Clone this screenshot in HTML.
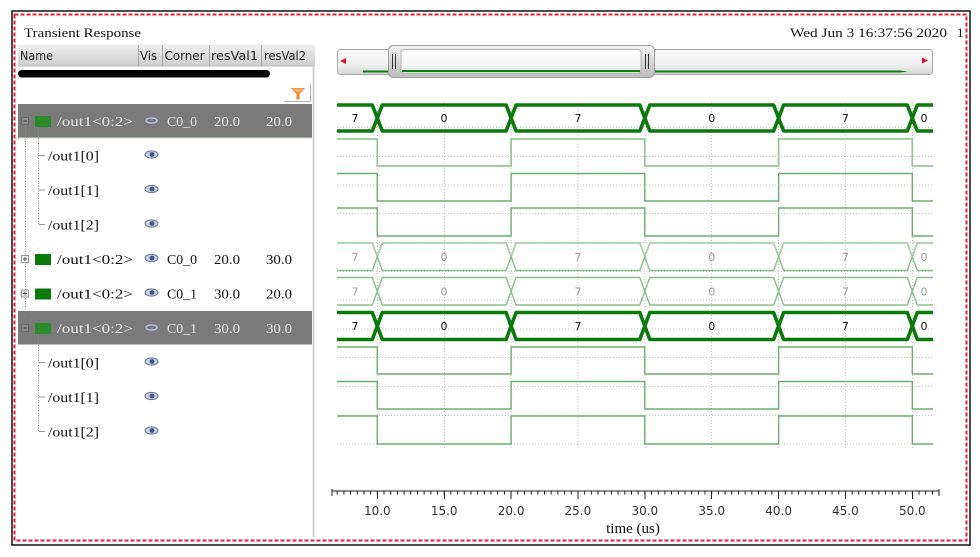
<!DOCTYPE html>
<html><head><meta charset="utf-8">
<style>
html,body{margin:0;padding:0;background:#fff;}
svg{display:block;}
.serif{font-family:"Liberation Serif","DejaVu Serif",serif;}
.sans{font-family:"DejaVu Sans","Liberation Sans",sans-serif;}
</style></head>
<body>
<svg width="980" height="557" viewBox="0 0 980 557" xmlns="http://www.w3.org/2000/svg">
<defs>
<linearGradient id="hdr" x1="0" y1="0" x2="0" y2="1"><stop offset="0" stop-color="#efefef"/><stop offset="1" stop-color="#cdcdcd"/></linearGradient>
<linearGradient id="trk" x1="0" y1="0" x2="0" y2="1"><stop offset="0" stop-color="#fdfdfd"/><stop offset="0.6" stop-color="#f0f0f0"/><stop offset="1" stop-color="#d4d4d4"/></linearGradient>
<linearGradient id="thb" x1="0" y1="0" x2="0" y2="1"><stop offset="0" stop-color="#f2f2f2"/><stop offset="1" stop-color="#bdbdbd"/></linearGradient>
<linearGradient id="thi" x1="0" y1="0" x2="0" y2="1"><stop offset="0" stop-color="#ffffff"/><stop offset="0.7" stop-color="#f3f3f3"/><stop offset="1" stop-color="#dedede"/></linearGradient>
</defs>
<rect width="980" height="557" fill="#fff"/>
<!-- frames -->
<rect x="12" y="11" width="958" height="534" fill="none" stroke="#111" stroke-width="1.5"/>
<rect x="14.5" y="14.5" width="952" height="526" fill="none" stroke="#e0203c" stroke-width="2" stroke-dasharray="4 2"/>

<!-- title -->
<text x="24" y="37" class="serif" font-size="13" fill="#111" textLength="117" lengthAdjust="spacingAndGlyphs">Transient Response</text>
<text x="790" y="37" class="serif" font-size="13" fill="#111" textLength="157" lengthAdjust="spacingAndGlyphs">Wed Jun 3 16:37:56 2020</text>
<text x="957" y="37" class="serif" font-size="13" fill="#111">1</text>

<!-- left panel header -->
<rect x="18" y="45" width="297" height="21" fill="url(#hdr)"/>
<line x1="18" y1="66" x2="315" y2="66" stroke="#b8b8b8"/>
<g stroke="#a8a8a8" stroke-width="1">
<line x1="138.5" y1="45" x2="138.5" y2="66"/><line x1="162.5" y1="45" x2="162.5" y2="66"/>
<line x1="209.5" y1="45" x2="209.5" y2="66"/><line x1="261.5" y1="45" x2="261.5" y2="66"/>
</g>
<g class="sans" font-size="12" fill="#222">
<text x="20" y="60" textLength="33" lengthAdjust="spacingAndGlyphs">Name</text>
<text x="140" y="60" textLength="17" lengthAdjust="spacingAndGlyphs">Vis</text>
<text x="164.5" y="60" textLength="40" lengthAdjust="spacingAndGlyphs">Corner</text>
<text x="211" y="60" textLength="47" lengthAdjust="spacingAndGlyphs">resVal1</text>
<text x="264" y="60" textLength="42" lengthAdjust="spacingAndGlyphs">resVal2</text>
</g>
<!-- panel border -->
<line x1="313.5" y1="66" x2="313.5" y2="537" stroke="#cfcfcf" stroke-width="2"/>
<!-- black pill -->
<rect x="18" y="70" width="252" height="7.5" rx="3.7" fill="#000"/>
<!-- filter button -->
<polyline points="284,101.5 310.5,101.5 310.5,84" fill="none" stroke="#b0b0b0" stroke-width="1"/>
<path d="M291,88 H305 L299.5,94 V99.5 H296.5 V94 Z" fill="#e8872c"/>
<path d="M292.5,88.5 H303.5 L299,92.5 H297 Z" fill="#f6b36a"/>

<!-- highlighted rows -->
<rect x="18" y="104" width="294" height="33.5" fill="#7a7a7a"/>
<line x1="18" y1="138" x2="312" y2="138" stroke="#c6e0c6" stroke-width="1"/>
<rect x="18" y="311" width="294" height="33.5" fill="#7a7a7a"/>

<!-- tree lines -->
<g stroke="#8a8a8a" stroke-width="1" stroke-dasharray="1 1.5" fill="none">
<line x1="25.5" y1="126" x2="25.5" y2="318"/>
<line x1="38.5" y1="128" x2="38.5" y2="224.5"/>
<line x1="38.5" y1="335" x2="38.5" y2="431.5"/>
</g>
<g stroke="#9a9a9a" stroke-width="1">
<line x1="39" y1="155.5" x2="45" y2="155.5"/><line x1="39" y1="190" x2="45" y2="190"/><line x1="39" y1="224.5" x2="45" y2="224.5"/>
<line x1="39" y1="362.5" x2="45" y2="362.5"/><line x1="39" y1="397" x2="45" y2="397"/><line x1="39" y1="431.5" x2="45" y2="431.5"/>
</g>

<!-- expanders -->
<g stroke-width="1">
<rect x="21.5" y="117.5" width="7" height="7" fill="#8a8a8a" stroke="#666"/><line x1="23" y1="121" x2="27" y2="121" stroke="#444"/>
<rect x="21.5" y="255.5" width="7" height="7" fill="#eee" stroke="#999"/><line x1="23" y1="259" x2="27" y2="259" stroke="#555"/><line x1="25" y1="257" x2="25" y2="261" stroke="#555"/>
<rect x="21.5" y="290" width="7" height="7" fill="#eee" stroke="#999"/><line x1="23" y1="293.5" x2="27" y2="293.5" stroke="#555"/><line x1="25" y1="291.5" x2="25" y2="295.5" stroke="#555"/>
<rect x="21.5" y="324.5" width="7" height="7" fill="#8a8a8a" stroke="#666"/><line x1="23" y1="328" x2="27" y2="328" stroke="#444"/>
</g>
<!-- green squares -->
<rect x="35" y="116" width="16" height="11" fill="#2b8b2b"/>
<rect x="35" y="254" width="16" height="11" fill="#0a7a0a"/>
<rect x="35" y="288.5" width="16" height="11" fill="#0a7a0a"/>
<rect x="35" y="323" width="16" height="11" fill="#2b8b2b"/>

<!-- row texts -->
<g class="serif" font-size="14">
<g fill="#e6e6e6">
<text x="57" y="126" textLength="76" lengthAdjust="spacingAndGlyphs">/out1&lt;0:2&gt;</text>
<text x="167" y="126" textLength="30" lengthAdjust="spacingAndGlyphs">C0_0</text>
<text x="214" y="126" textLength="26" lengthAdjust="spacingAndGlyphs">20.0</text>
<text x="266" y="126" textLength="26" lengthAdjust="spacingAndGlyphs">20.0</text>
<text x="57" y="333" textLength="76" lengthAdjust="spacingAndGlyphs">/out1&lt;0:2&gt;</text>
<text x="167" y="333" textLength="30" lengthAdjust="spacingAndGlyphs">C0_1</text>
<text x="214" y="333" textLength="26" lengthAdjust="spacingAndGlyphs">30.0</text>
<text x="266" y="333" textLength="26" lengthAdjust="spacingAndGlyphs">30.0</text>
</g>
<g fill="#111">
<text x="48" y="160.5" textLength="51" lengthAdjust="spacingAndGlyphs">/out1[0]</text>
<text x="48" y="195" textLength="51" lengthAdjust="spacingAndGlyphs">/out1[1]</text>
<text x="48" y="229.5" textLength="51" lengthAdjust="spacingAndGlyphs">/out1[2]</text>
<text x="57" y="264" textLength="76" lengthAdjust="spacingAndGlyphs">/out1&lt;0:2&gt;</text>
<text x="167" y="264" textLength="30" lengthAdjust="spacingAndGlyphs">C0_0</text>
<text x="214" y="264" textLength="26" lengthAdjust="spacingAndGlyphs">20.0</text>
<text x="266" y="264" textLength="26" lengthAdjust="spacingAndGlyphs">30.0</text>
<text x="57" y="298.5" textLength="76" lengthAdjust="spacingAndGlyphs">/out1&lt;0:2&gt;</text>
<text x="167" y="298.5" textLength="30" lengthAdjust="spacingAndGlyphs">C0_1</text>
<text x="214" y="298.5" textLength="26" lengthAdjust="spacingAndGlyphs">30.0</text>
<text x="266" y="298.5" textLength="26" lengthAdjust="spacingAndGlyphs">20.0</text>
<text x="48" y="367.5" textLength="51" lengthAdjust="spacingAndGlyphs">/out1[0]</text>
<text x="48" y="402" textLength="51" lengthAdjust="spacingAndGlyphs">/out1[1]</text>
<text x="48" y="436.5" textLength="51" lengthAdjust="spacingAndGlyphs">/out1[2]</text>
</g>
</g>

<!-- eyes -->
<g>
<g fill="#c9d0e2" stroke="#6b7798" stroke-width="1">
<ellipse cx="151.5" cy="154.5" rx="6.5" ry="3.6"/><ellipse cx="151.5" cy="189" rx="6.5" ry="3.6"/><ellipse cx="151.5" cy="223.5" rx="6.5" ry="3.6"/>
<ellipse cx="151.5" cy="258" rx="6.5" ry="3.6"/><ellipse cx="151.5" cy="292.5" rx="6.5" ry="3.6"/>
<ellipse cx="151.5" cy="361.5" rx="6.5" ry="3.6"/><ellipse cx="151.5" cy="396" rx="6.5" ry="3.6"/><ellipse cx="151.5" cy="430.5" rx="6.5" ry="3.6"/>
</g>
<g fill="#46557e">
<circle cx="152" cy="154.5" r="2.4"/><circle cx="152" cy="189" r="2.4"/><circle cx="152" cy="223.5" r="2.4"/>
<circle cx="152" cy="258" r="2.4"/><circle cx="152" cy="292.5" r="2.4"/>
<circle cx="152" cy="361.5" r="2.4"/><circle cx="152" cy="396" r="2.4"/><circle cx="152" cy="430.5" r="2.4"/>
</g>
<g fill="none" stroke="#b8c2de" stroke-width="1.4">
<ellipse cx="151.5" cy="120.5" rx="5.5" ry="2.6"/><ellipse cx="151.5" cy="327.5" rx="5.5" ry="2.6"/>
</g>
</g>

<!-- scrollbar -->
<rect x="337.5" y="49.5" width="595" height="25" rx="3" fill="url(#trk)" stroke="#a6a6a6"/>
<path d="M340,61 L346,58 L346,64 Z" fill="#e0102a"/>
<path d="M928,60.5 L922,57.5 L922,63.5 Z" fill="#e0102a"/>
<line x1="363" y1="71.5" x2="390" y2="71.5" stroke="#0c7c0c" stroke-width="2"/>
<rect x="388.5" y="45.5" width="266" height="32" rx="5" fill="url(#thb)" stroke="#a0a0a0"/>
<rect x="401" y="49.5" width="240" height="24" rx="3" fill="url(#thi)" stroke="#b4b4b4"/>
<g stroke="#333" stroke-width="1">
<line x1="392.5" y1="54" x2="392.5" y2="69"/><line x1="395.5" y1="54" x2="395.5" y2="69"/>
<line x1="645.5" y1="54" x2="645.5" y2="69"/><line x1="648.5" y1="54" x2="648.5" y2="69"/>
</g>
<line x1="402" y1="71" x2="640" y2="71" stroke="#0c7c0c" stroke-width="2"/>
<line x1="655" y1="71.5" x2="900" y2="71.5" stroke="#0c7c0c" stroke-width="2"/>
<path d="M900,70.5 L908,71.5 L900,72.5 Z" fill="#0c7c0c"/>

<!-- grid -->
<g stroke="#c4c4c4" stroke-width="1" stroke-dasharray="1 2">
<line x1="337" y1="127.5" x2="933" y2="127.5"/><line x1="337" y1="156.5" x2="933" y2="156.5"/>
<line x1="337" y1="185" x2="933" y2="185"/><line x1="337" y1="213.5" x2="933" y2="213.5"/>
<line x1="337" y1="242.5" x2="933" y2="242.5"/><line x1="337" y1="271.5" x2="933" y2="271.5"/>
<line x1="337" y1="300" x2="933" y2="300"/><line x1="337" y1="329" x2="933" y2="329"/>
<line x1="337" y1="357.5" x2="933" y2="357.5"/><line x1="337" y1="386.5" x2="933" y2="386.5"/>
<line x1="337" y1="415.5" x2="933" y2="415.5"/><line x1="337" y1="444" x2="933" y2="444"/>
<line x1="377.5" y1="102" x2="377.5" y2="448"/><line x1="444.5" y1="102" x2="444.5" y2="448"/>
<line x1="511" y1="102" x2="511" y2="448"/><line x1="578" y1="102" x2="578" y2="448"/>
<line x1="645" y1="102" x2="645" y2="448"/><line x1="711.5" y1="102" x2="711.5" y2="448"/>
<line x1="778.5" y1="102" x2="778.5" y2="448"/><line x1="845.5" y1="102" x2="845.5" y2="448"/>
<line x1="912.5" y1="102" x2="912.5" y2="448"/>
</g>

<!-- bit waveforms -->
<g fill="none" stroke="#6caf6c" stroke-width="1.4">
<path d="M337,139 H377.3 V166 H511.1 V139 H644.8 V166 H778.6 V139 H912.3 V166 H933" stroke="#98c898" stroke-width="1.8"/>
<path d="M337,173.5 H377.3 V201 H511.1 V173.5 H644.8 V201 H778.6 V173.5 H912.3 V201 H933"/>
<path d="M337,208 H377.3 V236 H511.1 V208 H644.8 V236 H778.6 V208 H912.3 V236 H933"/>
<path d="M337,347 H377.3 V374 H511.1 V347 H644.8 V374 H778.6 V347 H912.3 V374 H933"/>
<path d="M337,381.5 H377.3 V409 H511.1 V381.5 H644.8 V409 H778.6 V381.5 H912.3 V409 H933"/>
<path d="M337,416 H377.3 V444 H511.1 V416 H644.8 V444 H778.6 V416 H912.3 V444 H933"/>
</g>

<!-- thin buses -->
<g fill="none" stroke="#86c086" stroke-width="1.4">
<path d="M337,243 H372.3 L377.3,256.7 L382.3,243 H506.1 L511.1,256.7 L516.1,243 H639.8 L644.8,256.7 L649.8,243 H773.6 L778.6,256.7 L783.6,243 H907.3 L912.3,256.7 L917.3,243 H933" stroke="#a8d2a8" stroke-width="1.8"/>
<path d="M337,270.5 H372.3 L377.3,256.7 L382.3,270.5 H506.1 L511.1,256.7 L516.1,270.5 H639.8 L644.8,256.7 L649.8,270.5 H773.6 L778.6,256.7 L783.6,270.5 H907.3 L912.3,256.7 L917.3,270.5 H933"/>
<path d="M337,277.5 H372.3 L377.3,291.3 L382.3,277.5 H506.1 L511.1,291.3 L516.1,277.5 H639.8 L644.8,291.3 L649.8,277.5 H773.6 L778.6,291.3 L783.6,277.5 H907.3 L912.3,291.3 L917.3,277.5 H933"/>
<path d="M337,305 H372.3 L377.3,291.3 L382.3,305 H506.1 L511.1,291.3 L516.1,305 H639.8 L644.8,291.3 L649.8,305 H773.6 L778.6,291.3 L783.6,305 H907.3 L912.3,291.3 L917.3,305 H933"/>
</g>

<!-- thick buses -->
<g fill="none" stroke="#0a7a0a" stroke-width="3.6" stroke-linejoin="round">
<path d="M337,105 H372.3 L377.3,118 L382.3,105 H506.1 L511.1,118 L516.1,105 H639.8 L644.8,118 L649.8,105 H773.6 L778.6,118 L783.6,105 H907.3 L912.3,118 L917.3,105 H933"/>
<path d="M337,131 H372.3 L377.3,118 L382.3,131 H506.1 L511.1,118 L516.1,131 H639.8 L644.8,118 L649.8,131 H773.6 L778.6,118 L783.6,131 H907.3 L912.3,118 L917.3,131 H933"/>
<path d="M337,312.5 H372.3 L377.3,326 L382.3,312.5 H506.1 L511.1,326 L516.1,312.5 H639.8 L644.8,326 L649.8,312.5 H773.6 L778.6,326 L783.6,312.5 H907.3 L912.3,326 L917.3,312.5 H933"/>
<path d="M337,339.5 H372.3 L377.3,326 L382.3,339.5 H506.1 L511.1,326 L516.1,339.5 H639.8 L644.8,326 L649.8,339.5 H773.6 L778.6,326 L783.6,339.5 H907.3 L912.3,326 L917.3,339.5 H933"/>
</g>

<!-- bus labels -->
<g class="sans" font-size="11" text-anchor="middle">
<g fill="#111">
<text x="355" y="122">7</text><text x="444" y="122">0</text><text x="578" y="122">7</text><text x="711.7" y="122">0</text><text x="845.4" y="122">7</text><text x="924" y="122">0</text>
<text x="355" y="330">7</text><text x="444" y="330">0</text><text x="578" y="330">7</text><text x="711.7" y="330">0</text><text x="845.4" y="330">7</text><text x="924" y="330">0</text>
</g>
<g fill="#999">
<text x="355" y="261">7</text><text x="444" y="261">0</text><text x="578" y="261">7</text><text x="711.7" y="261">0</text><text x="845.4" y="261">7</text><text x="924" y="261">0</text>
<text x="355" y="295.5">7</text><text x="444" y="295.5">0</text><text x="578" y="295.5">7</text><text x="711.7" y="295.5">0</text><text x="845.4" y="295.5">7</text><text x="924" y="295.5">0</text>
</g>
</g>

<!-- time axis -->
<line x1="332" y1="491" x2="939" y2="491" stroke="#222" stroke-width="1"/>
<line x1="336.7" y1="492.8" x2="934" y2="492.8" stroke="#222" stroke-width="3.6" stroke-dasharray="1 5.6875"/>
<g stroke="#222" stroke-width="1">
<line x1="332" y1="489" x2="332" y2="496"/><line x1="939" y1="489" x2="939" y2="496"/>
<line x1="377.5" y1="491" x2="377.5" y2="499"/><line x1="444.5" y1="491" x2="444.5" y2="499"/>
<line x1="511" y1="491" x2="511" y2="499"/><line x1="578" y1="491" x2="578" y2="499"/>
<line x1="645" y1="491" x2="645" y2="499"/><line x1="711.5" y1="491" x2="711.5" y2="499"/>
<line x1="778.5" y1="491" x2="778.5" y2="499"/><line x1="845.5" y1="491" x2="845.5" y2="499"/>
<line x1="912.5" y1="491" x2="912.5" y2="499"/>
</g>
<g class="sans" font-size="12" fill="#333" text-anchor="middle">
<text x="377.3" y="515">10.0</text><text x="444.2" y="515">15.0</text><text x="511.1" y="515">20.0</text>
<text x="577.9" y="515">25.0</text><text x="644.8" y="515">30.0</text><text x="711.7" y="515">35.0</text>
<text x="778.6" y="515">40.0</text><text x="845.4" y="515">45.0</text><text x="912.3" y="515">50.0</text>
</g>
<text x="633" y="533" class="serif" font-size="15" fill="#111" text-anchor="middle">time (us)</text>
</svg>
</body></html>
